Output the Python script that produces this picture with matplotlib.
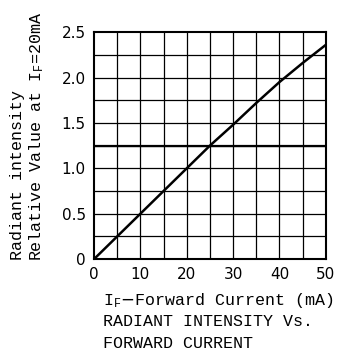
import numpy as np
from matplotlib import pyplot as plt

# forward current (mA) vs relative radiant intensity
current = [0, 10, 20, 25, 30, 35, 40, 45, 50]
intensity = [0, 0.50, 1.00, 1.25, 1.48, 1.72, 1.95, 2.16, 2.36]

x_ticks = [0, 10, 20, 30, 40, 50]
y_ticks = [0, 0.5, 1.0, 1.5, 2.0, 2.5]
y_tick_labels = ['0', '0.5', '1.0', '1.5', '2.0', '2.5']
ref_level = 1.25

fig = plt.figure(figsize=(3.47, 3.53), dpi=100)
ax = fig.add_axes([0.271, 0.266, 0.668, 0.643])

ax.set_xlim(0, 50)
ax.set_ylim(0, 2.5)

# grid every 5 mA / 0.25
for gx in np.arange(5, 50, 5):
    ax.axvline(gx, color='black', lw=0.9, zorder=1)
for gy in np.arange(0.25, 2.5, 0.25):
    ax.axhline(gy, color='black', lw=0.9, zorder=1)
ax.axhline(ref_level, color='black', lw=1.6, zorder=2)

ax.plot(current, intensity, color='black', lw=1.8, zorder=3)

for s in ax.spines.values():
    s.set_linewidth(1.5)

ax.set_xticks(x_ticks)
ax.set_yticks(y_ticks)
ax.set_yticklabels(y_tick_labels)
ax.tick_params(length=0, labelsize=11, pad=6)
for lab in ax.get_xticklabels() + ax.get_yticklabels():
    lab.set_family('DejaVu Sans')

mono = 'Liberation Mono'
fig.text(0.050, 0.504, 'Radiant intensity', rotation=90, ha='center', va='center',
         fontsize=12, family=mono)
fig.text(0.106, 0.613, r'Relative Value at I$\mathregular{_F}$=20mA', rotation=90,
         ha='center', va='center', fontsize=12, family=mono)

fig.text(0.297, 0.150, r'I$\mathregular{_F}$$-$Forward Current (mA)', ha='left', va='center',
         fontsize=12, family=mono)
fig.text(0.297, 0.088, 'RADIANT INTENSITY Vs.', ha='left', va='center',
         fontsize=12, family=mono)
fig.text(0.297, 0.028, 'FORWARD CURRENT', ha='left', va='center',
         fontsize=12, family=mono)

plt.savefig('out.png', dpi=100)
